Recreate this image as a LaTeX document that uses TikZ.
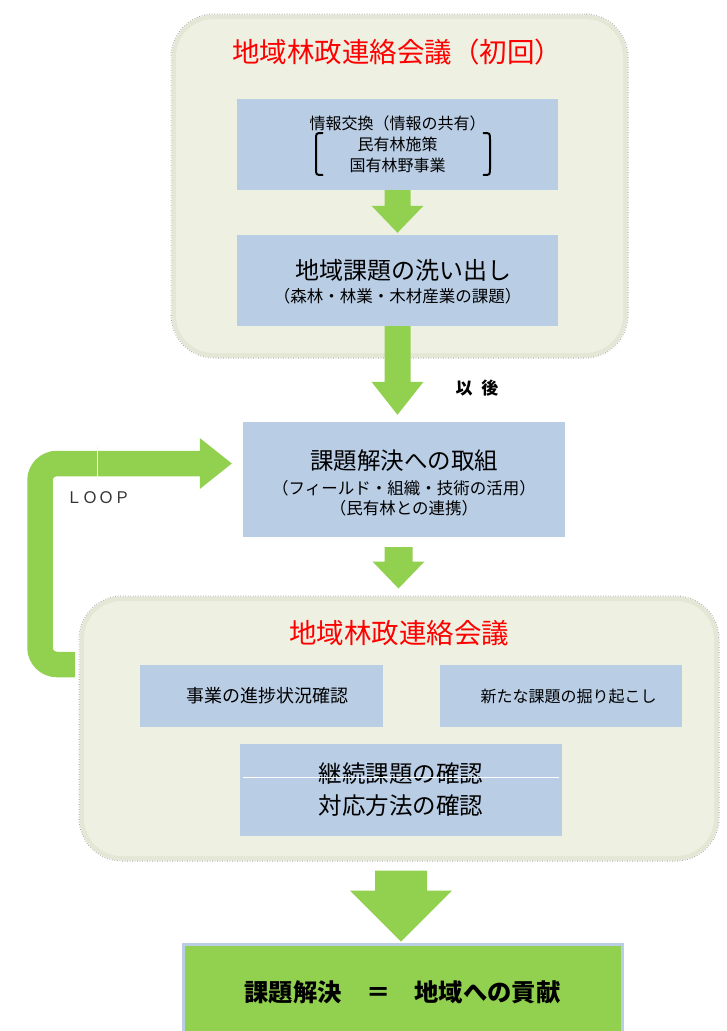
\documentclass[tikz,border=0pt]{standalone}
\usepackage{fontspec}
\setmainfont{Noto Sans CJK JP}
\usetikzlibrary{calc}
\usetikzlibrary{positioning}
\definecolor{boxblue}{HTML}{B9CDE5}
\definecolor{leaf}{HTML}{92D050}
\definecolor{panelfill}{HTML}{EEF1E2}
\definecolor{panelrim}{HTML}{E4E7D5}
\definecolor{heading}{HTML}{FF0000}

\newcommand{\greendown}[6]{%
  \fill[leaf] ($(#1)+(-#4,0)$) -- ($(#1)+(#4,0)$)
    -- ($(#1 |- #2)+(#4,{-#3-#6})$) -- ($(#1 |- #2)+(#5,{-#3-#6})$)
    -- ($(#1 |- #2)+(0,-#3)$)
    -- ($(#1 |- #2)+(-#5,{-#3-#6})$) -- ($(#1 |- #2)+(-#4,{-#3-#6})$) -- cycle;}

\begin{document}
\begin{tikzpicture} [x=1pt, y=-1pt,
  panel/.style={rectangle, rounded corners=42, fill=panelrim, draw=panelrim, line width=1pt,
    preaction={draw=black!35, line width=3pt, dash pattern=on 0.7pt off 1.8pt},
    path picture={\fill[panelfill, rounded corners=38]
      ($(path picture bounding box.south west)+(4,-4)$) rectangle
      ($(path picture bounding box.north east)+(-4,4)$);}},
  box/.style={rectangle, fill=boxblue, inner sep=0pt, align=center},
  title/.style={text=heading, font=\fontsize{27.5}{30}\selectfont}]

\useasboundingbox (0,0) rectangle (726,1031);

\node [panel, minimum width=455, minimum height=342] (first) at (399.5,186) {};
\node [panel, minimum width=638, minimum height=263] (review) at (399,728.5) {};

\node [title] (T1) at (397,52) {地域林政連絡会議（初回）};
\node [box, minimum width=321, minimum height=91, font=\fontsize{16}{21}\selectfont] (info)
    at (397.5,144.5) {情報交換（情報の共有）\\民有林施策\\国有林野事業};
\draw [line width=2pt, line cap=round] (322.5,133) .. controls (316,133) .. (316,140)
    -- (316,168) .. controls (316,175) .. (322.5,175);
\draw [line width=2pt, line cap=round] (483.5,133) .. controls (490,133) .. (490,140)
    -- (490,168) .. controls (490,175) .. (483.5,175);

\node [box, minimum width=321, minimum height=91] (issue) at (397.5,280.5)
    {\fontsize{24}{26}\selectfont \rule{0pt}{23pt}\hspace{12pt}地域課題の洗い出し\\[6pt]
     \fontsize{16.5}{18}\selectfont （森林・林業・木材産業の課題）};

\node [box, minimum width=322, minimum height=115] (work) at (404,479.5)
    {\fontsize{23.5}{26}\selectfont \rule{0pt}{26pt}課題解決への取組\\[8pt]
     \fontsize{16.5}{19}\selectfont （フィールド・組織・技術の活用）\\[3pt]
     \fontsize{16.5}{19}\selectfont （民有林との連携）};

\node [title] (T2) at (399,633) {地域林政連絡会議};
\node [box, minimum width=243, minimum height=62, font=\fontsize{18}{20}\selectfont] (progress)
    at (261.5,696) {\hspace{11pt}事業の進捗状況確認};
\node [box, minimum width=242, minimum height=62, font=\fontsize{16}{20}\selectfont] (dig)
    at (561,696) {\hspace{15pt}新たな課題の掘り起こし};
\node [box, minimum width=322, minimum height=92, font=\fontsize{23.5}{32}\selectfont] (confirm)
    at (401,790) {継続課題の確認\\対応方法の確認};
\draw [white, line width=0.7pt] ($(confirm.west)+(3,-13)$) -- ($(confirm.east)+(-3,-13)$);

\node [rectangle, fill=leaf, draw=boxblue, line width=3pt, minimum width=439, minimum height=96,
    font=\fontsize{24.3}{28}\selectfont\bfseries] (goal) at (402.5,992) {課題解決　＝　地域への貢献};

\greendown{info.south}{issue.north}{2}{13}{26}{27}
\greendown{issue.south}{work.north}{7}{13}{26}{33}
\coordinate (s3) at ($(work.south -| issue.south)+(1,10)$);
\greendown{s3}{review.north}{8}{14}{26}{27}
\coordinate (s4) at ($(review.south)+(2,10)$);
\greendown{s4}{goal.north}{1}{26}{51}{51}

\node [font=\fontsize{17}{20}\selectfont\bfseries] (later) at (477,388) {以\hspace{9pt}後};

\coordinate (L0) at (75,664.5);
\coordinate (L1) at ($(work.west)+(-43,-16)$);
\draw [leaf, line width=25.5pt, rounded corners=17] (L0) -- ++(-35,0) |- (L1);
\fill [leaf] ($(L1)+(0,-25.5)$) -- ($(L1)+(32,0)$) -- ($(L1)+(0,25.5)$) -- cycle;
\draw [green!8!white, line width=0.6pt] ($(L1)+(-103,-18.5)$) -- ($(L1)+(-103,16.5)$);
\node [font=\fontsize{16}{18}\selectfont, text=black!80] (loop) at (98,498) {ＬＯＯＰ};

\end{tikzpicture}
\end{document}
